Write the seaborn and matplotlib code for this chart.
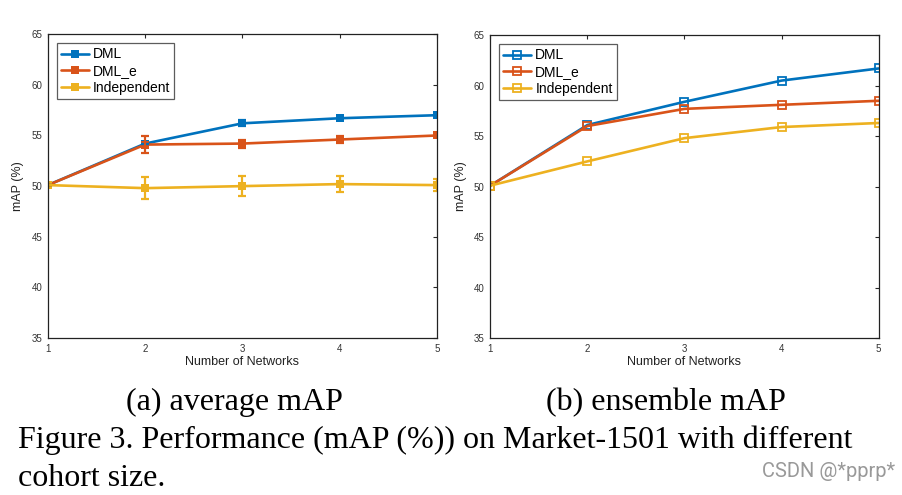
import pandas as pd
import matplotlib.pyplot as plt
import seaborn as sns

networks = [1, 2, 3, 4, 5]
methods = ["DML", "DML_e", "Independent"]

# (a) average mAP, with std error bars
avg_dml = [50.1, 54.2, 56.2, 56.7, 57.0]
avg_dml_e = [50.1, 54.1, 54.2, 54.6, 55.0]
avg_indep = [50.1, 49.8, 50.0, 50.2, 50.1]
err_dml = [0.0, 0.0, 0.3, 0.2, 0.2]
err_dml_e = [0.0, 0.8, 0.4, 0.3, 0.2]
err_indep = [0.0, 1.1, 0.95, 0.8, 0.6]

# (b) ensemble mAP
ens_dml = [50.1, 56.1, 58.4, 60.5, 61.7]
ens_dml_e = [50.1, 56.0, 57.7, 58.1, 58.5]
ens_indep = [50.1, 52.5, 54.8, 55.9, 56.3]

colors = {"DML": "#0072BD", "DML_e": "#D95319", "Independent": "#EDB120"}


def long_df(series):
    rows = []
    for m, vals in zip(methods, series):
        for n, v in zip(networks, vals):
            rows.append({"networks": n, "mAP": v, "method": m})
    return pd.DataFrame(rows)


df_avg = long_df([avg_dml, avg_dml_e, avg_indep])
df_ens = long_df([ens_dml, ens_dml_e, ens_indep])

sns.set_style("white")
plt.rcParams["font.family"] = ["Liberation Sans", "DejaVu Sans"]

fig = plt.figure(figsize=(9.03, 4.95), dpi=100)
ax1 = fig.add_axes([0.053, 0.317, 0.431, 0.614])
ax2 = fig.add_axes([0.543, 0.317, 0.430, 0.612])

sns.lineplot(data=df_avg, x="networks", y="mAP", hue="method", style="method",
             markers=["s", "s", "s"], dashes=False, palette=colors, ax=ax1,
             linewidth=1.9, markersize=5.5, markeredgewidth=0)
for m, vals, errs in zip(methods, [avg_dml, avg_dml_e, avg_indep],
                         [err_dml, err_dml_e, err_indep]):
    ax1.errorbar(networks, vals, yerr=errs, fmt="none", ecolor=colors[m],
                 elinewidth=1.6, capsize=3, capthick=1.6)

sns.lineplot(data=df_ens, x="networks", y="mAP", hue="method", style="method",
             markers=["s", "s", "s"], dashes=False, palette=colors, ax=ax2,
             linewidth=1.9, markersize=5.5)
for line in ax2.lines:
    line.set_markerfacecolor("none")
    line.set_markeredgewidth(1.3)
    line.set_markeredgecolor(line.get_color())

for ax in (ax1, ax2):
    ax.set_xlim(1, 5)
    ax.set_ylim(35, 65)
    ax.set_xticks(networks)
    ax.set_yticks([35, 40, 45, 50, 55, 60, 65])
    ax.tick_params(direction="in", top=True, right=True, length=3, width=0.8,
                   labelsize=7, labelcolor="#333333", pad=4)
    for s in ax.spines.values():
        s.set_color("#222222")
        s.set_linewidth(0.9)
    ax.set_xlabel("Number of Networks", fontsize=9, color="#222222", labelpad=2)
    ax.set_ylabel("mAP (%)", fontsize=9, color="#222222", labelpad=5)
    h, l = ax.get_legend_handles_labels()
    leg = ax.legend(h[:3], l[:3], loc="upper left", fontsize=10, frameon=True,
                    fancybox=False, edgecolor="#333333", handlelength=2.0,
                    handletextpad=0.3, borderpad=0.3, labelspacing=0.2,
                    borderaxespad=0, bbox_to_anchor=(0.023, 0.97))
    leg.get_frame().set_linewidth(0.9)
    for t in leg.get_texts():
        t.set_color("black")

serif = ["Liberation Serif", "DejaVu Serif"]
fig.text(0.26, 0.187, "(a) average mAP", ha="center", va="center",
         fontsize=23, family=serif, color="black")
fig.text(0.737, 0.187, "(b) ensemble mAP", ha="center", va="center",
         fontsize=23, family=serif, color="black")
fig.text(0.02, 0.11, "Figure 3. Performance (mAP (%)) on Market-1501 with different",
         ha="left", va="center", fontsize=23, family=serif, color="black")
fig.text(0.02, 0.033, "cohort size.", ha="left", va="center",
         fontsize=23, family=serif, color="black")
fig.text(0.991, 0.047, "CSDN @*pprp*", ha="right", va="center", fontsize=14.5,
         color="#999999", family=["Roboto", "DejaVu Sans"])

fig.savefig("out.png", dpi=100)
